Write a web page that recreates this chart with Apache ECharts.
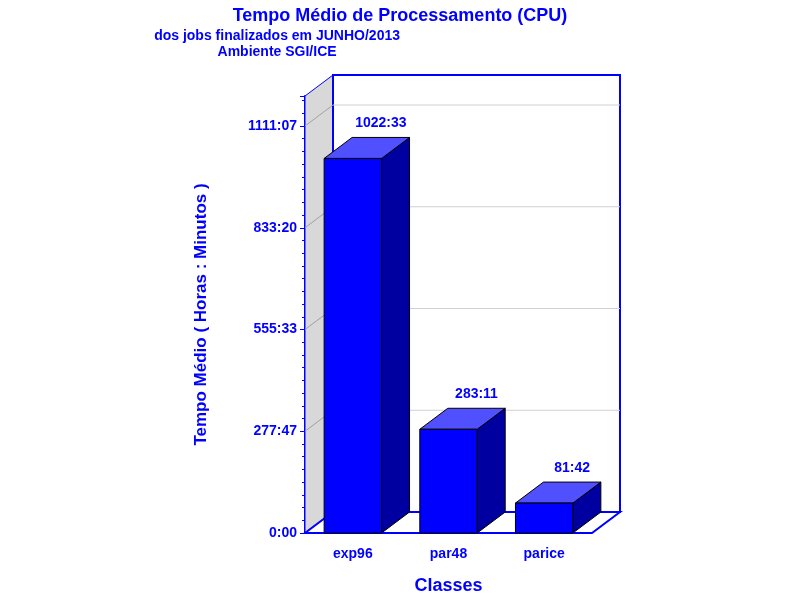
<!DOCTYPE html>
<html><head><meta charset="utf-8">
<script src="https://cdn.jsdelivr.net/npm/echarts@6/dist/echarts.min.js"></script>
<style>html,body{margin:0;padding:0;background:#fff}</style>
</head><body><div id="c" style="width:800px;height:600px"></div>
<script>
const categories = ['exp96', 'par48', 'parice'];
const valueLabels = ['1022:33', '283:11', '81:42'];
const valuesMinutes = [61353, 16991, 4902];
const tickMinutes = [0, 16666.67, 33333.33, 50000, 66666.67];
const yMax = 71583;

const DX = 28, DY = -21;
function fmt(v){ const t=Math.round(v); const h=Math.floor(t/60), m=t%60; return h+':'+(m<10?'0':'')+m; }
const chart = echarts.init(document.getElementById('c'));
const blue = '#0000ff';
chart.setOption({
  backgroundColor:'#fff',
  animation:false,
  title:[
    {text:'Tempo Médio de Processamento (CPU)', left:'center', top:2, textStyle:{color:blue,fontSize:18,fontWeight:'bold',fontFamily:'Liberation Sans'}},
    {text:'dos jobs finalizados em JUNHO/2013\nAmbiente SGI/ICE', left:'center', top:23, textAlign:'center', textStyle:{color:blue,fontSize:14,fontWeight:'bold',lineHeight:16,fontFamily:'Liberation Sans',align:'center'}}
  ],
  grid:{left:305, right:208, top:96, bottom:67},
  xAxis:{type:'category', data:categories, axisLine:{show:false}, axisTick:{show:false},
    axisLabel:{color:blue,fontSize:14,fontWeight:'bold',fontFamily:'Liberation Sans',margin:14},
    name:'Classes', nameLocation:'middle', nameGap:44, nameTextStyle:{color:blue,fontSize:18,fontWeight:'bold',fontFamily:'Liberation Sans'}},
  yAxis:{type:'value', min:0, max:yMax, interval:16666.67,
    axisLine:{show:true,lineStyle:{color:blue,width:2}}, axisTick:{show:true,length:5,lineStyle:{color:blue}},
    minorTick:{show:true,splitNumber:8,length:3,lineStyle:{color:blue}},
    splitLine:{show:false},
    axisLabel:{color:blue,fontSize:14,fontWeight:'bold',fontFamily:'Liberation Sans',formatter:v=>fmt(v),showMaxLabel:false},
    name:'Tempo Médio ( Horas : Minutos )', nameLocation:'middle', nameGap:95, nameRotate:90,
    nameTextStyle:{color:blue,fontSize:17,fontWeight:'bold',fontFamily:'Liberation Sans'}},
  series:[
    {type:'custom', data:[0], z:1, silent:true, renderItem:(p,api)=>{
      const o=api.coord([0,0]); const cs=p.coordSys;
      const x0=cs.x, x1=cs.x+cs.width, y0=cs.y+cs.height, yT=cs.y;
      const ch=[];
      // left wall
      ch.push({type:'polygon',shape:{points:[[x0,y0],[x0+DX,y0+DY],[x0+DX,yT+DY],[x0,yT]]},style:{fill:'#d8d8d8',stroke:blue,lineWidth:1}});
      // back wall
      ch.push({type:'rect',shape:{x:x0+DX,y:yT+DY,width:x1-x0,height:y0-yT},style:{fill:'#fff',stroke:blue,lineWidth:2}});
      tickMinutes.slice(1).forEach(t=>{
        const y=api.coord([0,t])[1];
        ch.push({type:'line',shape:{x1:x0+DX,y1:y+DY,x2:x1+DX,y2:y+DY},style:{stroke:'#d0d0d0',lineWidth:1}});
        ch.push({type:'line',shape:{x1:x0,y1:y,x2:x0+DX,y2:y+DY},style:{stroke:'#a0a0a0',lineWidth:1}});
      });
      // floor
      ch.push({type:'polygon',shape:{points:[[x0,y0],[x1,y0],[x1+DX,y0+DY],[x0+DX,y0+DY]]},style:{fill:'#fff',stroke:blue,lineWidth:2}});
      return {type:'group',children:ch};
    }},
    {type:'custom', data:valuesMinutes.map((v,i)=>[i,v]), z:2, renderItem:(p,api)=>{
      const i=api.value(0), v=api.value(1);
      const top=api.coord([i,v]), bot=api.coord([i,0]);
      const w=api.size([1,0])[0]*0.6;
      const l=top[0]-w/2, r=top[0]+w/2, t=top[1], b=bot[1];
      const s={stroke:'#000',lineWidth:1};
      return {type:'group',children:[
        {type:'polygon',shape:{points:[[r,b],[r+DX,b+DY],[r+DX,t+DY],[r,t]]},style:Object.assign({fill:'#0000a0'},s)},
        {type:'polygon',shape:{points:[[l,t],[r,t],[r+DX,t+DY],[l+DX,t+DY]]},style:Object.assign({fill:'#5050ff'},s)},
        {type:'rect',shape:{x:l,y:t,width:w,height:b-t},style:Object.assign({fill:'#0000ff'},s)},
        {type:'text',style:{text:valueLabels[p.dataIndex],x:top[0]+DX,y:t+DY-7,align:'center',verticalAlign:'bottom',fill:blue,font:'bold 14px "Liberation Sans"'}}
      ]};
    }}
  ]
});
</script></body></html>
